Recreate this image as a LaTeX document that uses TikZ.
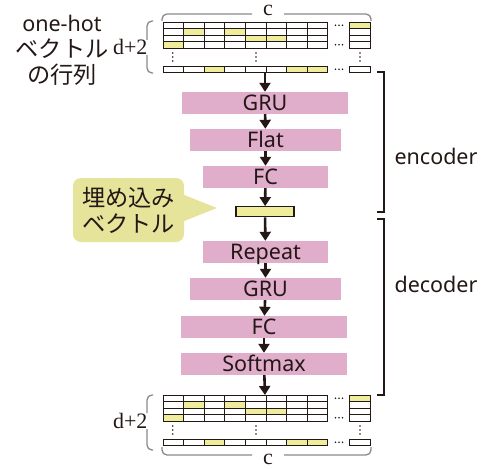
\documentclass[tikz,border=0pt]{standalone}
\usepackage{fontspec}
\setmainfont{Noto Sans}
\newfontfamily\jpfont[Scale=1.08]{Noto Sans CJK JP}
\newfontfamily\lblfont{Liberation Serif}
\usepackage{xcolor}
\usepackage{tikz}
\usetikzlibrary{arrows.meta,positioning,calc}

\definecolor{ink}{HTML}{231815}
\definecolor{layer}{HTML}{E0ADCB}
\definecolor{hot}{HTML}{EFEC9C}
\definecolor{bubble}{HTML}{E6E39A}
\definecolor{bracegray}{HTML}{8A8A8A}

% one-hot matrix, #1 = top edge
\newcommand{\onehotmat}[1]{%
  \foreach \c/\r in {2/2,4/2,5/3,6/3,1/4}
    \fill[hot] ({163+(\c-1)*20.6},{#1+(\r-1)*6.5}) rectangle ++(20.6,6.5);
  \fill[hot] (349,#1) rectangle ++(21,6.5);
  \foreach \c in {3,7,8}
    \fill[hot] ({163+(\c-1)*20.6},{#1+44}) rectangle ++(20.6,6.5);
  \foreach \c in {0,...,7}{
    \foreach \r in {0,...,3}
      \draw[cell] ({163+\c*20.6},{#1+\r*6.5}) rectangle ++(20.6,6.5);
    \draw[cell] ({163+\c*20.6},{#1+44}) rectangle ++(20.6,6.5);
  }
  \foreach \r in {0,...,3}
    \draw[cell] (349,{#1+\r*6.5}) rectangle ++(21,6.5);
  \draw[cell] (349,{#1+44}) rectangle ++(21,6.5);
  \foreach \yy in {3.25,22.75,47.25}
    \foreach \xx in {335.5,339,342.5}
      \fill[ink] (\xx,{#1+\yy}) circle (0.9);
  \foreach \xx in {172.7,256,360}
    \foreach \yy in {31,35,39}
      \fill[ink] (\xx,{#1+\yy}) circle (0.9);
}

\begin{document}
\begin{tikzpicture}[
  x=1pt, y=-1pt,
  every node/.style={font=\fontsize{21.5}{26}\selectfont, text=ink},
  net/.style={fill=layer, inner sep=0pt, minimum height=22pt,
    text height=15pt, text depth=0pt},
  cell/.style={draw=ink, line width=0.7pt},
  arr/.style={draw=ink, line width=2.6pt, -{Triangle[width=11pt,length=9pt]}},
  brc/.style={draw=bracegray, line width=1.3pt, rounded corners=5pt},
  bkt/.style={draw=ink, line width=1.5pt},
  sz/.style={font=\lblfont\fontsize{22}{24}\selectfont}
]
  \useasboundingbox (0,0) rectangle (486,468);

  % input / output matrices
  \onehotmat{22}
  \onehotmat{395}
  \coordinate (inmat) at (265,72.3);
  \coordinate (outmat) at (265,395);

  % braces
  \draw[brc] (162,21) -- (162,14) -- (252,14);
  \draw[brc] (284,14) -- (371,14) -- (371,21);
  \node[sz, anchor=base, inner sep=0pt] (ctop) at (268,16) {c};
  \draw[brc] (162,447) -- (162,455) -- (252,455);
  \draw[brc] (284,455) -- (371,455) -- (371,447);
  \node[sz, anchor=base, inner sep=0pt] (cbot) at (268,464) {c};
  \draw[brc] (153,21) -- (147,21) -- (147,40);
  \draw[brc] (147,55) -- (147,73) -- (153,73);
  \node[sz, anchor=east] (dtop) at (151,47) {d+2};
  \draw[brc] (153,395) -- (147,395) -- (147,413);
  \draw[brc] (147,429) -- (147,450) -- (153,450);
  \node[sz, anchor=east] (dbot) at (151,421) {d+2};

  \node[align=center] (title) at (62,50)
    {one-hot\\{\jpfont ベクトル}\\{\jpfont の行列}};

  % layers
  \node[net, minimum width=166pt] (gru1) at (265,103) {GRU};
  \node[net, minimum width=151pt] (flat) at (265.5,140) {Flat};
  \node[net, minimum width=125pt] (fc1) at (265.5,177) {FC};
  \node[fill=hot, draw=ink, line width=1.2pt, inner sep=0pt,
    minimum width=58pt, minimum height=10pt] (emb) at (265,211.7) {};
  \node[net, minimum width=125pt] (rep) at (265.5,252) {Repeat};
  \node[net, minimum width=151pt] (gru2) at (265.5,289) {GRU};
  \node[net, minimum width=166pt] (fc2) at (264,327) {FC};
  \node[net, minimum width=166pt] (soft) at (264,364) {Softmax};

  \draw[arr] (inmat) -- (gru1);
  \draw[arr] (gru1) -- (flat);
  \draw[arr] (flat) -- (fc1);
  \draw[arr] (fc1) -- (emb);
  \draw[arr] (emb) -- (rep);
  \draw[arr] (rep) -- (gru2);
  \draw[arr] (gru2) -- (fc2);
  \draw[arr] (fc2) -- (soft);
  \draw[arr] (soft) -- (outmat);

  % callout
  \node[fill=bubble, rounded corners=8pt, minimum width=111pt,
    minimum height=64pt, inner sep=0pt, align=center] (emblbl) at (128.5,210)
    {\jpfont 埋め込み\\\jpfont ベクトル};
  \coordinate (tip) at (217,208);
  \fill[bubble] ([yshift=15pt]emblbl.east) -- (tip) -- ([yshift=-11pt]emblbl.east) -- cycle;

  % encoder / decoder brackets
  \draw[bkt] (377,72) -- (384,72) -- (384,212) -- (377,212);
  \draw[bkt] (377,219) -- (384,219) -- (384,395) -- (377,395);
  \node (enc) at (436,156) {encoder};
  \node (dec) at (436,284) {decoder};
\end{tikzpicture}
\end{document}
